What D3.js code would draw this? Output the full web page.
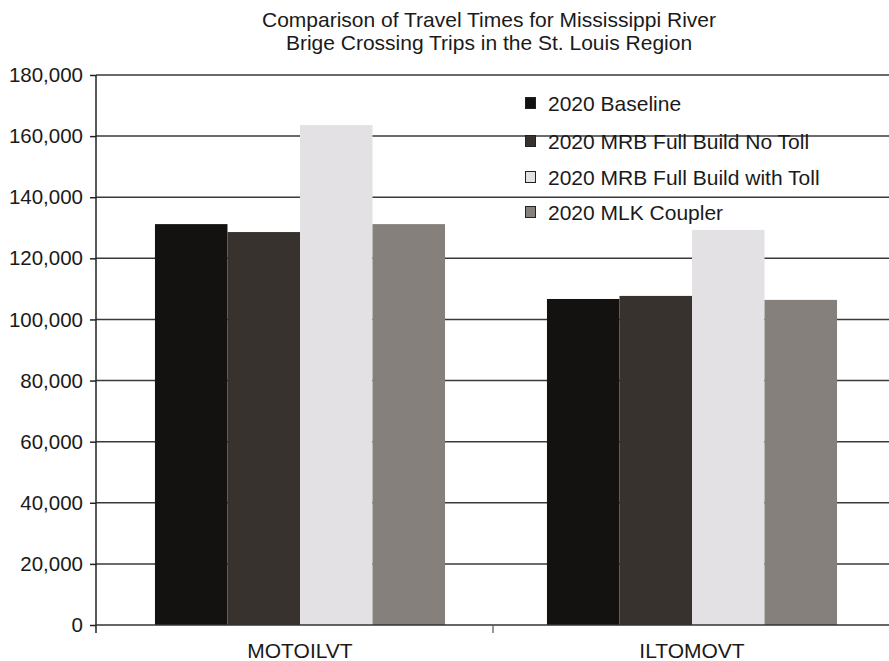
<!DOCTYPE html>
<html>
<head>
<meta charset="utf-8">
<script src="https://cdn.jsdelivr.net/npm/d3@7"></script>
<style>
  html, body { margin: 0; padding: 0; background: #fff; }
  svg { display: block; font-family: "Liberation Sans", Arial, Helvetica, sans-serif; }
</style>
</head>
<body>
<svg id="chart" width="889" height="661"></svg>
<script>
// Trip travel times (vehicle-hours) by crossing direction and scenario
const categories = ["MOTOILVT", "ILTOMOVT"];
const seriesNames = [
  "2020 Baseline",
  "2020 MRB Full Build No Toll",
  "2020 MRB Full Build with Toll",
  "2020 MLK Coupler"
];
const baseline        = [131200, 106700];
const fullBuildNoToll = [128600, 107700];
const fullBuildToll   = [163600, 129300];
const mlkCoupler      = [131200, 106400];
const seriesColors = ["#131210", "#38322e", "#e3e1e4", "#85807b"];
const yTicks = [0, 20000, 40000, 60000, 80000, 100000, 120000, 140000, 160000, 180000];
const titleLines = [
  "Comparison of Travel Times for Mississippi River",
  "Brige Crossing Trips in the St. Louis Region"
];

const seriesValues = [baseline, fullBuildNoToll, fullBuildToll, mlkCoupler];

const svg = d3.select("#chart");
const plotLeft = 96, plotRight = 890, plotTop = 75, plotBottom = 625;

const y = d3.scaleLinear().domain([0, 180000]).range([plotBottom, plotTop]);
// category slots along the axis (used for the divider ticks)
const xAxisBand = d3.scaleBand().domain(categories).range([plotLeft, plotRight]);
// bar clusters, sitting slightly right of each slot's centre
const x0 = d3.scaleBand().domain(categories).range([plotLeft + 8, plotRight - 2])
  .paddingInner(0.26).paddingOuter(0.13);
const x1 = d3.scaleBand().domain(seriesNames).range([0, x0.bandwidth()]);

// Title
svg.append("g").selectAll("text").data(titleLines).join("text")
  .attr("x", 489).attr("y", (d, i) => 27 + i * 23)
  .attr("text-anchor", "middle")
  .attr("font-size", 21).attr("fill", "#1a1a1a")
  .text(d => d);

// Horizontal gridlines
svg.append("g").selectAll("line").data(yTicks.filter(t => t > 0)).join("line")
  .attr("x1", plotLeft).attr("x2", 889)
  .attr("y1", d => y(d)).attr("y2", d => y(d))
  .attr("stroke", "#3a3a3a").attr("stroke-width", 1.5);

// Bars
const groups = svg.append("g").selectAll("g").data(categories).join("g")
  .attr("transform", c => `translate(${x0(c)},0)`);
groups.selectAll("rect")
  .data((c, ci) => seriesNames.map((s, si) => ({ s, si, v: seriesValues[si][ci] })))
  .join("rect")
  .attr("x", d => x1(d.s))
  .attr("width", x1.bandwidth())
  .attr("y", d => y(d.v))
  .attr("height", d => y(0) - y(d.v))
  .attr("fill", d => seriesColors[d.si]);

// Y axis
const yAxis = d3.axisLeft(y).tickValues(yTicks).tickSize(6).tickPadding(7)
  .tickFormat(d3.format(","));
const gy = svg.append("g").attr("transform", `translate(${plotLeft},0)`).call(yAxis);
gy.select(".domain").remove();
gy.selectAll(".tick line").attr("stroke", "#222").attr("stroke-width", 1.5);
gy.selectAll(".tick text").attr("font-size", 20.5).attr("fill", "#1a1a1a")
  .attr("font-family", "Liberation Sans, Arial, sans-serif");
svg.append("line").attr("x1", plotLeft).attr("x2", plotLeft)
  .attr("y1", plotTop).attr("y2", plotBottom + 8)
  .attr("stroke", "#222").attr("stroke-width", 1.5);

// X axis
svg.append("line").attr("x1", plotLeft).attr("x2", 889)
  .attr("y1", plotBottom).attr("y2", plotBottom)
  .attr("stroke", "#333").attr("stroke-width", 1.5);
const dividers = categories.slice(1).map(c => xAxisBand(c));
svg.append("g").selectAll("line").data(dividers).join("line")
  .attr("x1", d => d).attr("x2", d => d)
  .attr("y1", plotBottom).attr("y2", plotBottom + 8)
  .attr("stroke", "#555").attr("stroke-width", 1.2);
svg.append("g").selectAll("text").data(categories).join("text")
  .attr("x", c => x0(c) + x0.bandwidth() / 2)
  .attr("y", 658)
  .attr("text-anchor", "middle")
  .attr("font-size", 21).attr("fill", "#1a1a1a")
  .text(c => c);

// Legend
const legend = svg.append("g").selectAll("g").data(seriesNames).join("g")
  .attr("transform", (d, i) => `translate(525,${[103, 141, 177, 212][i]})`);
legend.append("rect")
  .attr("x", 0.5).attr("y", -5.5).attr("width", 10).attr("height", 11)
  .attr("fill", (d, i) => seriesColors[i])
  .attr("stroke", "#222").attr("stroke-width", 1);
legend.append("text")
  .attr("x", 23).attr("y", 7.5)
  .attr("font-size", 21).attr("fill", "#1a1a1a")
  .text(d => d);
</script>
</body>
</html>
